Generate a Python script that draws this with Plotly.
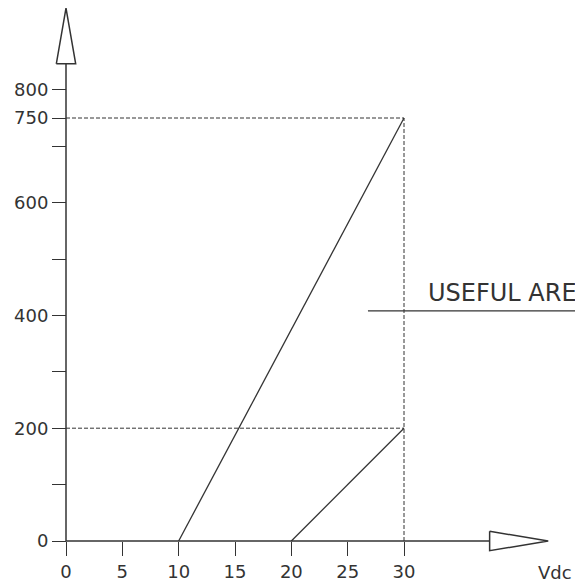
import plotly.graph_objects as go

# ---- data ----
x_ticks = [0, 5, 10, 15, 20, 25, 30]
x_labels = ["0", "5", "10", "15", "20", "25", "30"]
y_ticks = [0, 100, 200, 300, 400, 500, 600, 700, 750, 800]
y_labels = ["0", "", "200", "", "400", "", "600", "", "750", "800"]

line_high_x = [10, 30]
line_high_y = [0, 750]
line_low_x = [20, 30]
line_low_y = [0, 200]

ref_levels = [750, 200]      # dashed horizontal guides
ref_x = 30                   # dashed vertical guide
useful_y = 408               # leader line of the "USEFUL AREA" label
useful_x = [26.8, 46]
useful_text = "USEFUL AREA"
x_title = "Vdc"

x_axis_end = 37.6            # x-axis arrow base
x_arrow_tip = 42.8
y_axis_end = 846             # y-axis arrow base
y_arrow_tip = 945
x_arrow_half = 17.2          # half height of x arrow (y units)
y_arrow_half = 0.86          # half width of y arrow (x units)

# ---- styling ----
INK = "#333333"
FONT = "DejaVu Sans"
W, H = 575, 582
X0PX, Y0PX = 66, 541
XSCALE = (404 - 66) / 30.0
YSCALE = (541 - 118) / 750.0

x_range = [-X0PX / XSCALE, (W - X0PX) / XSCALE]
y_range = [-(H - Y0PX) / YSCALE, Y0PX / YSCALE]

fig = go.Figure()

def seg(xs, ys, width=1.3, dash="solid"):
    fig.add_trace(go.Scatter(x=xs, y=ys, mode="lines",
                             line=dict(color=INK, width=width, dash=dash),
                             hoverinfo="skip", showlegend=False))

# axes lines
seg([0, x_axis_end], [0, 0], width=1.5)
seg([0, 0], [0, y_axis_end], width=1.5)

# arrows (outlined triangles)
fig.add_trace(go.Scatter(
    x=[x_axis_end, x_arrow_tip, x_axis_end, x_axis_end],
    y=[x_arrow_half, 0, -x_arrow_half, x_arrow_half],
    mode="lines", fill="toself", fillcolor="white",
    line=dict(color=INK, width=1.5), hoverinfo="skip", showlegend=False))
fig.add_trace(go.Scatter(
    x=[-y_arrow_half, 0, y_arrow_half, -y_arrow_half],
    y=[y_axis_end, y_arrow_tip, y_axis_end, y_axis_end],
    mode="lines", fill="toself", fillcolor="white",
    line=dict(color=INK, width=1.5), hoverinfo="skip", showlegend=False))

# dashed guides
for lv in ref_levels:
    seg([0, ref_x], [lv, lv], width=1, dash="4px,2px")
seg([ref_x, ref_x], [0, max(ref_levels)], width=1, dash="4px,2px")

# characteristic lines
seg(line_high_x, line_high_y)
seg(line_low_x, line_low_y)

# useful area leader
seg(useful_x, [useful_y, useful_y])

fig.add_annotation(x=31.95, y=useful_y + 32, text=useful_text, showarrow=False,
                   xanchor="left", yanchor="middle",
                   font=dict(family=FONT, size=24, color=INK))
fig.add_annotation(x=43.4, y=-55, text=x_title, showarrow=False,
                   xanchor="center", yanchor="middle",
                   font=dict(family=FONT, size=18, color=INK))

fig.update_layout(
    width=W, height=H,
    margin=dict(l=0, r=0, t=0, b=0),
    paper_bgcolor="white", plot_bgcolor="white",
    showlegend=False,
    xaxis=dict(range=x_range, domain=[0, 1], anchor="free",
               position=(H - Y0PX) / H,
               showline=False, showgrid=False, zeroline=False,
               ticks="outside", ticklen=14, tickwidth=1.3, tickcolor=INK,
               tickvals=x_ticks, ticktext=x_labels,
               tickfont=dict(family=FONT, size=18, color=INK)),
    yaxis=dict(range=y_range, domain=[0, 1], anchor="free",
               position=X0PX / W,
               showline=False, showgrid=False, zeroline=False,
               ticks="outside", ticklen=14, tickwidth=1.3, tickcolor=INK,
               tickvals=y_ticks, ticktext=y_labels,
               tickfont=dict(family=FONT, size=18, color=INK)),
)

fig.write_html("out.html",
               config={"displayModeBar": False},
               post_script="document.body.style.margin='0';document.body.style.overflow='hidden';")
